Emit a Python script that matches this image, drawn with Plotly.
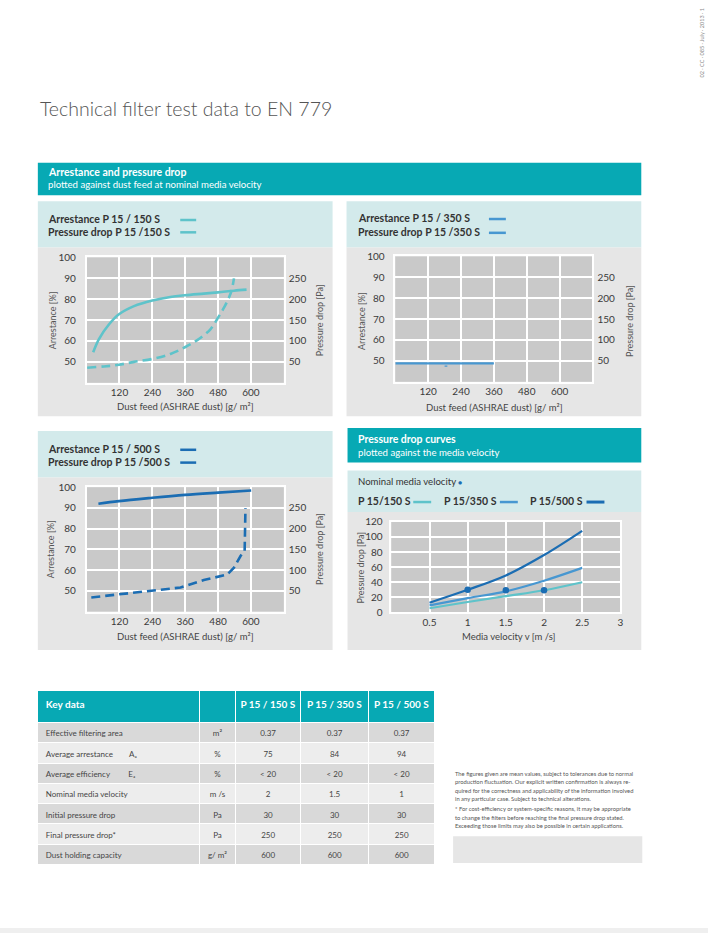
import plotly.graph_objects as go

W, H = 711, 939
def X(x): return x / W
def Y(y): return 1 - y / H

TEAL = "#07a9b4"
LTEAL = "#d3eaeb"
PANEL = "#e6e6e6"
PLOTBG = "#c9c9c9"
C150 = "#5ec3ca"
C350 = "#4797d1"
C500 = "#1b6db3"
TXT = "#3a3a3a"
FONT = "Lato"
NB = "\u00a0"

# ---------------- data ----------------
dust_ticks = [0, 120, 240, 360, 480, 600, 720]
dust_labels = ["", "120", "240", "360", "480", "600", ""]
arr_ticks = [40, 50, 60, 70, 80, 90, 100]
arr_labels = ["", "50", "60", "70", "80", "90", "100"]
pa_ticks = [50, 100, 150, 200, 250]

# P 15 / 150 S
arr150_x = [24, 45, 82, 118, 173, 240, 306, 359, 428, 480, 538, 584]
arr150_y = [54.6, 60.9, 68.0, 72.8, 76.7, 79.4, 81.1, 81.9, 82.7, 83.3, 84.1, 84.6]
pd150_x = [2, 63, 118, 173, 240, 306, 359, 404, 452, 480, 501, 519, 529, 538]
pd150_y = [36, 39, 43, 50, 57, 69, 85, 102, 128, 156, 179, 203, 220, 250]

# P 15 / 350 S
arr350_x = [0, 360]
arr350_y = [48.8, 48.8]
pd350_x = [180, 190]
pd350_y = [37.5, 37.5]

# P 15 / 500 S
arr500_x = [43, 118, 240, 359, 480, 601]
arr500_y = [92.0, 93.3, 94.9, 96.3, 97.4, 98.4]
pd500_x = [17, 118, 240, 343, 428, 513, 538, 562, 577, 579, 580]
pd500_y = [34, 41, 50, 58, 76, 89, 106, 134, 146, 186, 250]

# Pressure drop vs media velocity
vel_ticks = [0, 0.5, 1, 1.5, 2, 2.5, 3]
vel_labels = ["", "0.5", "1", "1.5", "2", "2.5", "3"]
vel = [0.5, 1, 1.5, 2, 2.5]
pv150 = [5.6, 13.9, 21.6, 29.4, 40]
pv350 = [9.5, 19, 28, 42, 59]
pv500 = [13, 30, 49, 76, 108]
nom_v = [1, 1.5, 2]
nom_p = [30, 29.5, 29.5]

# Key data table
tbl_header = ["<b>Key" + NB + "data</b>", "",
              "<b>P" + NB + "15" + NB + "/" + NB + "150" + NB + "S</b>",
              "<b>P" + NB + "15" + NB + "/" + NB + "350" + NB + "S</b>",
              "<b>P" + NB + "15" + NB + "/" + NB + "500" + NB + "S</b>"]
tbl_labels = ["Effective filtering area",
              "Average arrestance" + NB * 8 + "A\u2090",
              "Average efficiency" + NB * 9 + "E\u2090",
              "Nominal media velocity", "Initial pressure drop",
              "Final pressure drop*", "Dust holding capacity"]
tbl_units = ["m²", "%", "%", "m" + NB + "/s", "Pa", "Pa", "g/" + NB + "m²"]
LT20 = "\u02c2" + NB + "20"
tbl_150 = ["0.37", "75", LT20, "2", "30", "250", "600"]
tbl_350 = ["0.37", "84", LT20, "1.5", "30", "250", "600"]
tbl_500 = ["0.37", "94", LT20, "1", "30", "250", "600"]

footnote = [
    "The figures given are mean values, subject to tolerances due to normal",
    "production fluctuation. Our explicit written confirmation is always re-",
    "quired for the correctness and applicability of the information involved",
    "in any particular case. Subject to technical alterations.",
    "* For cost-efficiency or system-specific reasons, it may be appropriate",
    "to change the filters before reaching the final pressure drop stated.",
    "Exceeding those limits may also be possible in certain applications.",
]
foot_y = [777, 785.5, 794, 802.5, 813, 821.5, 830]

fig = go.Figure()

# ---------------- traces ----------------
fig.add_trace(go.Scatter(x=arr150_x, y=arr150_y, xaxis="x", yaxis="y", mode="lines",
                         line=dict(color=C150, width=2.6, shape="spline"), showlegend=False))
fig.add_trace(go.Scatter(x=pd150_x, y=pd150_y, xaxis="x", yaxis="y2", mode="lines",
                         line=dict(color=C150, width=2.6, dash="9px,5px", shape="spline"), showlegend=False))

fig.add_trace(go.Scatter(x=arr350_x, y=arr350_y, xaxis="x2", yaxis="y3", mode="lines",
                         line=dict(color=C350, width=2.2), showlegend=False))
fig.add_trace(go.Scatter(x=pd350_x, y=pd350_y, xaxis="x2", yaxis="y4", mode="lines",
                         line=dict(color=C350, width=1.2), showlegend=False))

fig.add_trace(go.Scatter(x=arr500_x, y=arr500_y, xaxis="x3", yaxis="y5", mode="lines",
                         line=dict(color=C500, width=2.6, shape="spline"), showlegend=False))
fig.add_trace(go.Scatter(x=pd500_x, y=pd500_y, xaxis="x3", yaxis="y6", mode="lines",
                         line=dict(color=C500, width=2.6, dash="9px,5px"), showlegend=False))

fig.add_trace(go.Scatter(x=vel, y=pv150, xaxis="x4", yaxis="y7", mode="lines",
                         line=dict(color=C150, width=2.2, shape="spline"), showlegend=False))
fig.add_trace(go.Scatter(x=vel, y=pv350, xaxis="x4", yaxis="y7", mode="lines",
                         line=dict(color=C350, width=2.2, shape="spline"), showlegend=False))
fig.add_trace(go.Scatter(x=vel, y=pv500, xaxis="x4", yaxis="y7", mode="lines",
                         line=dict(color=C500, width=2.2, shape="spline"), showlegend=False))
fig.add_trace(go.Scatter(x=nom_v, y=nom_p, xaxis="x4", yaxis="y7", mode="markers",
                         marker=dict(color=C500, size=6.5), showlegend=False))

row_fill = ["#d9d9d9", "#ededed", "#d9d9d9", "#ededed", "#d9d9d9", "#ededed", "#d9d9d9"]
fig.add_trace(go.Table(
    domain=dict(x=[X(38), X(437)], y=[Y(872), Y(693)]),
    columnwidth=[163, 36, 66, 68, 67],
    header=dict(values=tbl_header, fill_color=TEAL, line=dict(color="white", width=1),
                height=32, align=["left", "center", "center", "center", "center"],
                font=dict(family=FONT, size=10, color="white")),
    cells=dict(values=[tbl_labels, tbl_units, tbl_150, tbl_350, tbl_500],
               fill_color=[row_fill] * 5, line=dict(color="white", width=1),
               height=20.3, align=["left", "center", "center", "center", "center"],
               font=dict(family=FONT, size=8, color="#454545")),
))

# ---------------- axes ----------------
tickf = dict(family=FONT, size=10, color=TXT)
common = dict(showgrid=True, gridcolor="white", gridwidth=1.5, zeroline=False,
              showline=True, linecolor="white", linewidth=1.5, mirror=True,
              ticks="", tickfont=tickf, fixedrange=True)

def dust_x(dom, anchor):
    return dict(domain=dom, anchor=anchor, range=[0, 720], tickmode="array",
                tickvals=dust_ticks, ticktext=dust_labels, ticklabelstandoff=0, **common)

def arr_y(dom, anchor):
    return dict(domain=dom, anchor=anchor, range=[40, 100], tickmode="array",
                tickvals=arr_ticks, ticktext=arr_labels, ticklabelstandoff=7, **common)

def pa_y(over, anchor):
    return dict(overlaying=over, anchor=anchor, side="right", range=[0, 300], tickmode="array",
                tickvals=pa_ticks, showgrid=False, zeroline=False, showline=False, ticks="",
                tickfont=tickf, ticklabelstandoff=4, fixedrange=True)

layout = dict(
    width=W, height=H, margin=dict(l=0, r=0, t=0, b=0),
    paper_bgcolor="white", plot_bgcolor="rgba(0,0,0,0)", showlegend=False,
    font=dict(family=FONT, color=TXT),
    xaxis=dust_x([X(87), X(285)], "y"),
    yaxis=arr_y([Y(381), Y(254)], "x"),
    yaxis2=pa_y("y", "x"),
    xaxis2=dust_x([X(397), X(595)], "y3"),
    yaxis3=arr_y([Y(380), Y(253)], "x2"),
    yaxis4=pa_y("y3", "x2"),
    xaxis3=dust_x([X(87), X(285)], "y5"),
    yaxis5=arr_y([Y(613), Y(487)], "x3"),
    yaxis6=pa_y("y5", "x3"),
    xaxis4=dict(domain=[X(393), X(623)], anchor="y7", range=[0, 3], tickmode="array",
                tickvals=vel_ticks, ticktext=vel_labels, ticklabelstandoff=0, **common),
    yaxis7=dict(domain=[Y(614), Y(522)], anchor="x4", range=[0, 120], tickmode="array",
                tickvals=[0, 20, 40, 60, 80, 100, 120], ticklabelstandoff=5, **common),
)
fig.update_layout(**layout)

# ---------------- shapes ----------------
shapes = []
def rect(x0, y0, x1, y1, color, layer="below"):
    shapes.append(dict(type="rect", xref="paper", yref="paper", x0=X(x0), x1=X(x1),
                       y0=Y(y1), y1=Y(y0), fillcolor=color, line=dict(width=0), layer=layer))
def hline(x0, x1, y, color, width=2.5, dash="solid"):
    shapes.append(dict(type="line", xref="paper", yref="paper", x0=X(x0), x1=X(x1),
                       y0=Y(y), y1=Y(y), line=dict(color=color, width=width, dash=dash), layer="above"))

rect(38, 158, 644, 191, TEAL)
rect(38, 197, 334, 244, LTEAL)
rect(38, 244, 334, 415, PANEL)
rect(87, 254, 285, 381, PLOTBG)
rect(348, 197, 644, 244, LTEAL)
rect(348, 244, 644, 415, PANEL)
rect(397, 253, 595, 380, PLOTBG)
rect(38, 430, 334, 477, LTEAL)
rect(38, 477, 334, 652, PANEL)
rect(87, 487, 285, 613, PLOTBG)
rect(349, 427, 644, 462, TEAL)
rect(349, 470, 644, 512, LTEAL)
rect(349, 512, 644, 652, PANEL)
rect(393, 522, 623, 614, PLOTBG)
rect(455, 841, 645, 868, PANEL)
rect(0, 934, 711, 939, "#efefef")

# legend samples
hline(181, 197, 216, C150)
hline(181, 197, 228.5, C150)
hline(491, 508, 215, C350)
hline(491, 508, 229, C350)
hline(181, 197, 449, C500)
hline(181, 197, 462, C500)
hline(415, 433, 502, C150)
hline(502, 520, 502, C350)
hline(589, 607, 502, C500, width=3)
fig.update_layout(shapes=shapes)

# ---------------- annotations ----------------
ann = []
def text(x, y, s, size=9.5, color=TXT, xanchor="left", yanchor="middle", angle=0, weight=None, family=FONT):
    f = dict(family=family, size=size, color=color)
    if weight is not None:
        f["weight"] = weight
    ann.append(dict(xref="paper", yref="paper", x=X(x), y=Y(y), text=s, showarrow=False,
                    xanchor=xanchor, yanchor=yanchor, textangle=angle, font=f))

text(38, 103, "Technical filter test data to EN 779", size=19.5, color="#555555", weight=300)
text(704, 36, "02 · CC · 085 · July · 2013 · 1", size=5.5, color="#8a8a8a", xanchor="center", angle=-90)

text(46, 167, "<b>Arrestance and pressure drop</b>", size=10.5, color="white")
text(46, 180, "plotted against dust feed at nominal media velocity", size=9.6, color="white")

text(46, 215, "<b>Arrestance P 15 / 150 S</b>", size=10.5, color="#333333")
text(46, 228, "<b>Pressure drop P 15 /150 S</b>", size=10.5, color="#333333")
text(358, 214, "<b>Arrestance P 15 / 350 S</b>", size=10.5, color="#333333")
text(358, 228, "<b>Pressure drop P 15 /350 S</b>", size=10.5, color="#333333")
text(46, 448, "<b>Arrestance P 15 / 500 S</b>", size=10.5, color="#333333")
text(46, 461, "<b>Pressure drop P 15 /500 S</b>", size=10.5, color="#333333")

text(358, 438, "<b>Pressure drop curves</b>", size=10.5, color="white")
text(358, 452, "plotted against the media velocity", size=9.6, color="white")
text(358, 481, "Nominal media velocity", size=9.6, color="#333333")
text(462, 482, "●", size=7, color=C500, xanchor="center")
text(358, 501, "<b>P 15/150 S</b>", size=10.5, color="#333333")
text(444, 501, "<b>P 15/350 S</b>", size=10.5, color="#333333")
text(530, 501, "<b>P 15/500 S</b>", size=10.5, color="#333333")

# axis titles
for (ax_x, ay, px_, xt_x, xt_y) in [(53, 318, 321, 186, 405), (363, 318, 632, 497, 406), (51, 550, 321, 186, 638)]:
    text(ax_x, ay, "Arrestance [%]", size=9, color="#555555", xanchor="center", angle=-90)
    text(px_, ay, "Pressure drop [Pa]", size=9, color="#555555", xanchor="center", angle=-90)
    text(xt_x, xt_y, "Dust feed (ASHRAE dust) [g/ m²]", size=9.5, color="#444444", xanchor="center")
text(362, 568, "Pressure drop [Pa]", size=9, color="#555555", xanchor="center", angle=-90)
text(511, 638, "Media velocity v [m /s]", size=9.5, color="#444444", xanchor="center")

for s, yy in zip(footnote, foot_y):
    text(455, yy, s, size=5.8, color="#555555")

fig.update_layout(annotations=ann)
fig.write_html("out.html", post_script="document.body.style.margin='0px';",
               config={"displayModeBar": False})
